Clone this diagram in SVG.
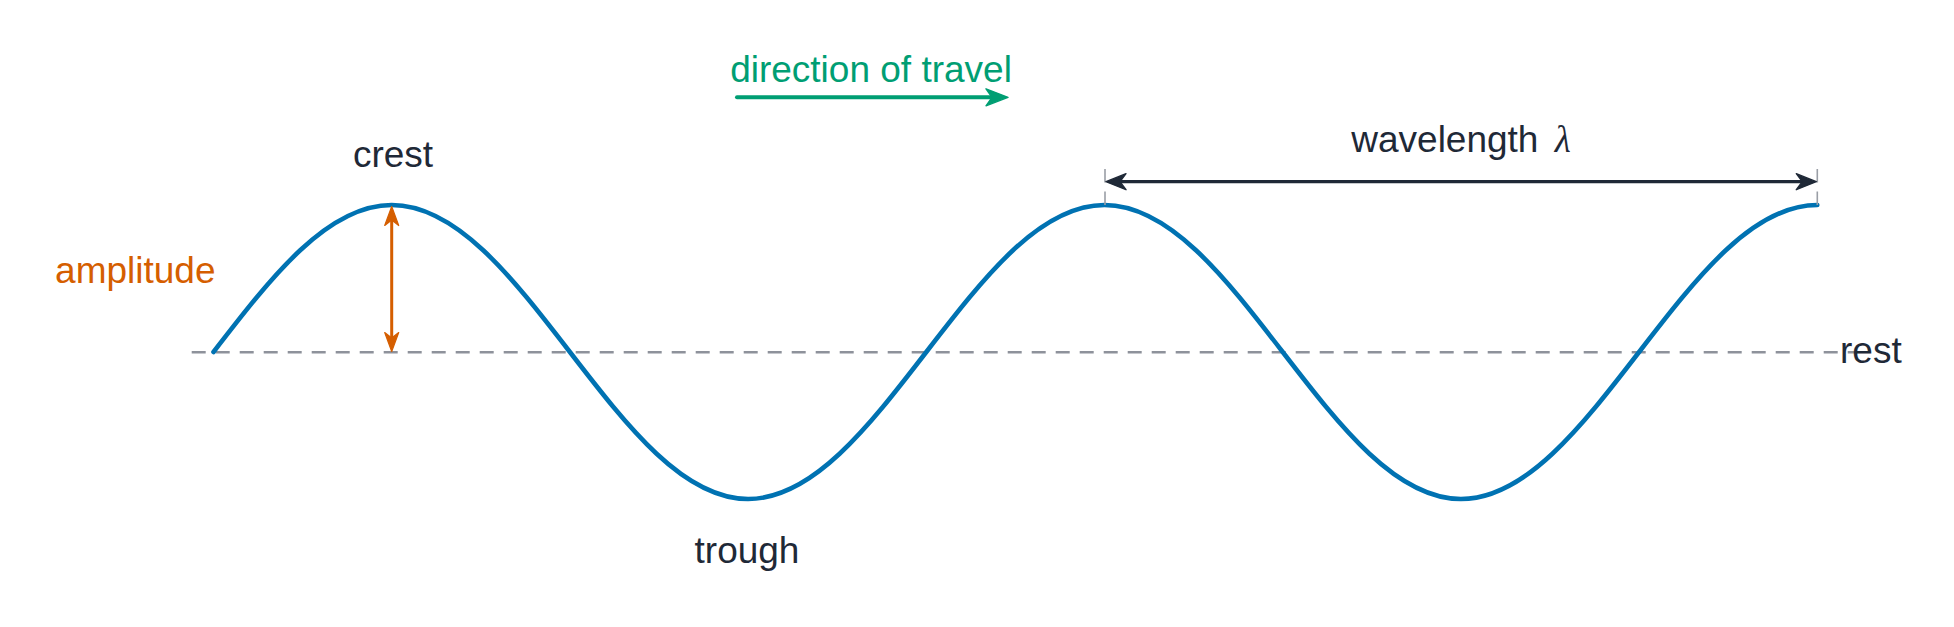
<svg xmlns="http://www.w3.org/2000/svg" width="1954" height="627" viewBox="0 0 1954 627">
<style>
  .lbl { font-family: "Liberation Sans", Arial, sans-serif; font-size: 37px; }
  .dark { fill: #1f2937; }
  .orange { fill: #D55E00; }
  .green { fill: #009E73; }
  .rest { stroke: #8e929b; stroke-width: 2.5; stroke-dasharray: 14 10; fill: none; }
  .tick { stroke: #9a9ea6; stroke-width: 1.6; stroke-dasharray: 13.5 9; fill: none; }
  .wave { stroke: #0072B2; stroke-width: 4.6; fill: none; stroke-linecap: round; stroke-linejoin: round; }
</style>
<defs>
  <marker id="ah-orange" viewBox="0 0 21 16" refX="13" refY="8" markerWidth="21" markerHeight="16" markerUnits="userSpaceOnUse" orient="auto-start-reverse">
    <path d="M20,8 L1,1 L6.5,8 L1,15 Z" fill="#D55E00" stroke="#D55E00" stroke-width="1.2" stroke-linejoin="round"/>
  </marker>
  <marker id="ah-dark" viewBox="0 0 22 18" refX="14" refY="9" markerWidth="22" markerHeight="18" markerUnits="userSpaceOnUse" orient="auto-start-reverse">
    <path d="M21,9 L1,1 L7,9 L1,17 Z" fill="#1f2937" stroke="#1f2937" stroke-width="1.4" stroke-linejoin="round"/>
  </marker>
  <marker id="ah-green" viewBox="0 0 24 19" refX="15" refY="9.5" markerWidth="24" markerHeight="19" markerUnits="userSpaceOnUse" orient="auto-start-reverse">
    <path d="M23,9.5 L1,1 L7,9.5 L1,18 Z" fill="#009E73" stroke="#009E73" stroke-width="1.4" stroke-linejoin="round"/>
  </marker>
</defs>

<g id="rest-line">
  <line class="rest" x1="191.7" y1="352.3" x2="1856" y2="352.3"/>
</g>

<g id="wave">
  <path class="wave" d="M213.5,352 c58.12,-75.31 113.7,-147 178.2,-147 c64.5,0 120.08,71.69 178.2,147 c58.12,75.31 113.7,147 178.2,147 c64.5,0 120.08,-71.69 178.2,-147 c58.12,-75.31 113.7,-147 178.2,-147 c64.5,0 120.08,71.69 178.2,147 c58.12,75.31 113.7,147 178.2,147 c64.5,0 120.08,-71.69 178.2,-147 c58.12,-75.31 113.7,-147 178.2,-147"/>
</g>

<g id="connectors">
  <line class="tick" x1="1105" y1="205" x2="1105" y2="168"/>
  <line class="tick" x1="1817.3" y1="205" x2="1817.3" y2="168"/>
  <line id="amplitude-arrow" x1="391.7" y1="213.5" x2="391.7" y2="344.5" stroke="#D55E00" stroke-width="3" marker-start="url(#ah-orange)" marker-end="url(#ah-orange)"/>
  <line id="wavelength-arrow" x1="1113" y1="181.7" x2="1809.3" y2="181.7" stroke="#1f2937" stroke-width="3.2" marker-start="url(#ah-dark)" marker-end="url(#ah-dark)"/>
  <line id="travel-arrow" x1="737" y1="97.3" x2="1000" y2="97.3" stroke="#009E73" stroke-width="4" stroke-linecap="round" marker-end="url(#ah-green)"/>
</g>

<g id="label-direction">
  <text class="lbl green" x="871" y="81.7" text-anchor="middle">direction of travel</text>
</g>
<g id="label-crest">
  <text class="lbl dark" x="393" y="166.7" text-anchor="middle">crest</text>
</g>
<g id="label-amplitude">
  <text class="lbl orange" x="135.3" y="282.7" text-anchor="middle">amplitude</text>
</g>
<g id="label-trough">
  <text class="lbl dark" x="747" y="563.3" text-anchor="middle">trough</text>
</g>
<g id="label-wavelength">
  <text class="lbl dark" x="1461" y="151.7" text-anchor="middle">wavelength <tspan dx="6" font-family="Liberation Serif, serif" font-style="italic">λ</tspan></text>
</g>
<g id="label-rest">
  <text class="lbl dark" x="1840" y="363.3">rest</text>
</g>
</svg>
